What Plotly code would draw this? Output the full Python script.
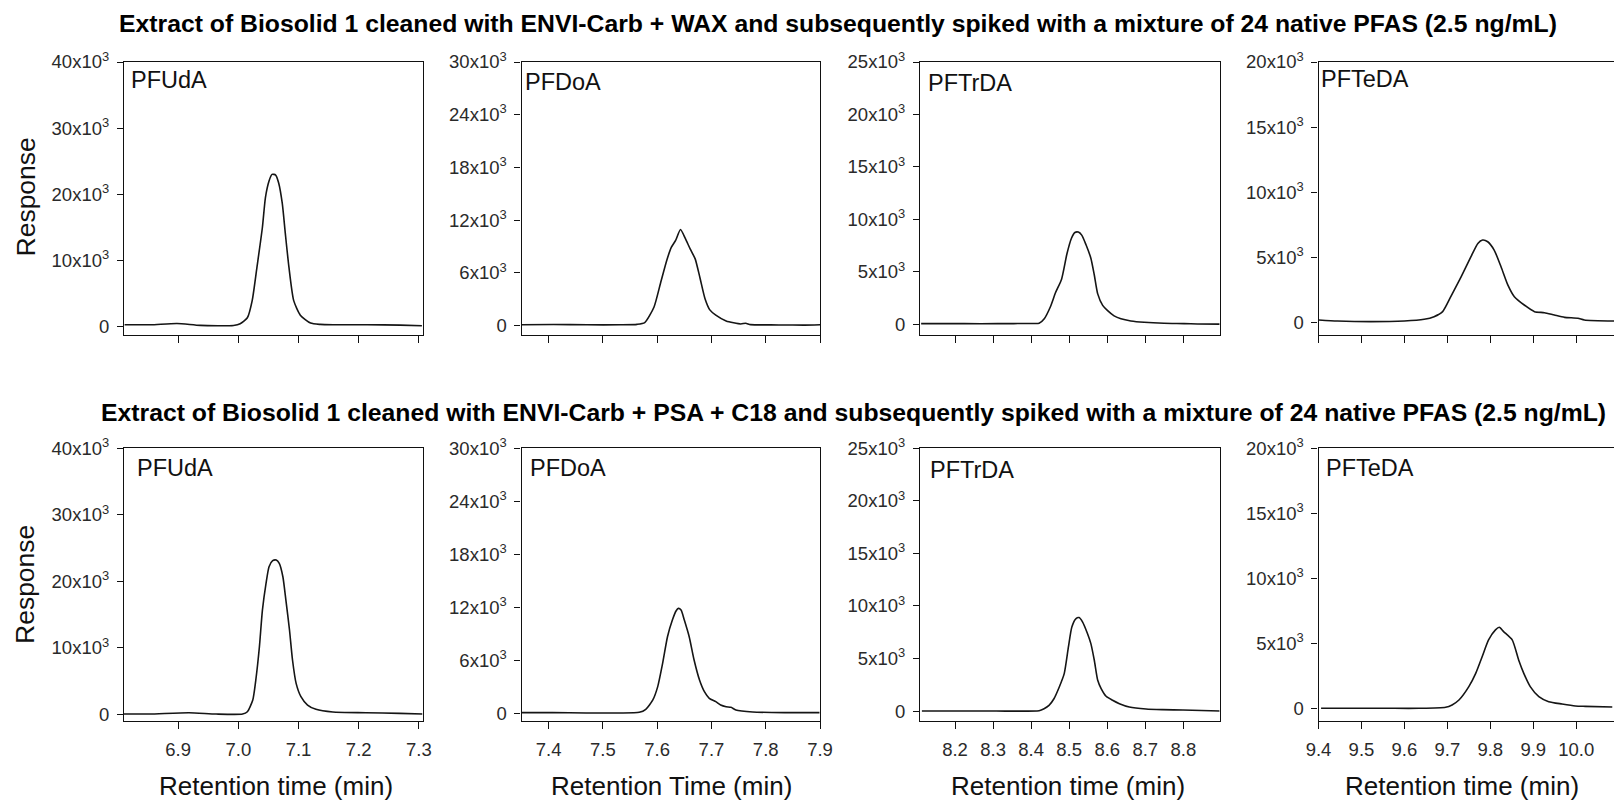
import plotly.graph_objects as go

W, H = 1614, 802

# ---------------- data ----------------
compounds = ["PFUdA", "PFDoA", "PFTrDA", "PFTeDA"]

row_titles = [
    "Extract of Biosolid 1 cleaned with ENVI-Carb + WAX and subsequently spiked with a mixture of 24 native PFAS (2.5 ng/mL)",
    "Extract of Biosolid 1 cleaned with ENVI-Carb + PSA + C18 and subsequently spiked with a mixture of 24 native PFAS (2.5 ng/mL)",
]
x_titles = ["Retention time (min)", "Retention Time (min)", "Retention time (min)", "Retention time (min)"]
y_title = "Response"

# y ticks (in thousands)
y_ticks_k = [
    [0, 10, 20, 30, 40],
    [0, 6, 12, 18, 24, 30],
    [0, 5, 10, 15, 20, 25],
    [0, 5, 10, 15, 20],
]
x_ticks = [
    [6.9, 7.0, 7.1, 7.2, 7.3],
    [7.4, 7.5, 7.6, 7.7, 7.8, 7.9],
    [8.2, 8.3, 8.4, 8.5, 8.6, 8.7, 8.8],
    [9.4, 9.5, 9.6, 9.7, 9.8, 9.9, 10.0],
]
x_ranges = [[6.810, 7.306], [7.350, 7.900], [8.108, 8.895], [9.400, 10.088]]
y_ranges = [
    [[-1300, 40000], [-1060, 30000], [-1020, 25000], [-975, 20000]],
    [[-1000, 40000], [-870, 30000], [-950, 25000], [-977, 20000]],
]

# --- WAX (top row) ---
wax_pfuda_t = [6.811, 6.854, 6.898, 6.937, 6.992, 7.003, 7.015, 7.023, 7.031, 7.040, 7.045, 7.051, 7.056,
               7.062, 7.067, 7.073, 7.078, 7.084, 7.092, 7.103, 7.120, 7.136, 7.158, 7.214, 7.269, 7.305]
wax_pfuda_r = [250, 250, 450, 150, 150, 400, 1300, 3900, 9000, 15000, 19500, 22000, 23000,
               22900, 21700, 18600, 14100, 9000, 3900, 1700, 500, 300, 250, 250, 200, 100]

wax_pfdoa_t = [7.350, 7.409, 7.471, 7.532, 7.563, 7.577, 7.594, 7.606, 7.618, 7.626, 7.634, 7.643, 7.652,
               7.661, 7.670, 7.679, 7.688, 7.697, 7.708, 7.727, 7.754, 7.763, 7.772, 7.809, 7.840, 7.871, 7.900]
wax_pfdoa_r = [100, 140, 100, 100, 150, 350, 2100, 4800, 7500, 8900, 9700, 10950, 9900,
               8700, 7600, 5400, 3100, 1800, 1200, 540, 190, 280, 120, 90, 80, 60, 100]

wax_pftrda_t = [8.111, 8.224, 8.312, 8.399, 8.421, 8.434, 8.451, 8.464, 8.480, 8.494, 8.506, 8.515, 8.524,
                8.533, 8.544, 8.557, 8.566, 8.575, 8.588, 8.601, 8.618, 8.636, 8.662, 8.697, 8.749, 8.802, 8.837, 8.896]
wax_pftrda_r = [60, 60, 60, 80, 95, 500, 1700, 3000, 4300, 6700, 8200, 8750, 8790,
                8500, 7600, 6300, 4700, 2900, 1800, 1300, 800, 520, 320, 190, 95, 65, 30, 20]

wax_pfteda_t = [9.401, 9.444, 9.522, 9.600, 9.646, 9.669, 9.689, 9.708, 9.732, 9.755, 9.771, 9.782, 9.794,
                9.809, 9.825, 9.841, 9.856, 9.879, 9.903, 9.926, 9.949, 9.973, 10.004, 10.019, 10.091]
wax_pfteda_r = [180, 100, 50, 100, 230, 430, 820, 1970, 3500, 5040, 6060, 6320, 6190,
                5550, 4270, 2860, 1970, 1330, 820, 740, 560, 380, 310, 180, 100]

# --- PSA + C18 (bottom row) ---
psa_pfuda_t = [6.809, 6.852, 6.918, 6.963, 7.007, 7.015, 7.024, 7.029, 7.035, 7.040, 7.046, 7.051, 7.057,
               7.063, 7.068, 7.074, 7.079, 7.085, 7.090, 7.096, 7.104, 7.115, 7.129, 7.157, 7.212, 7.268, 7.306]
psa_pfuda_r = [50, 50, 250, 50, 50, 400, 2150, 5160, 10170, 15680, 19690, 22190, 23100,
               23200, 22700, 20690, 17180, 12680, 8170, 4660, 2660, 1400, 750, 350, 250, 150, 50]

psa_pfdoa_t = [7.350, 7.407, 7.469, 7.530, 7.567, 7.579, 7.592, 7.601, 7.610, 7.619, 7.628, 7.635, 7.639,
               7.644, 7.650, 7.659, 7.668, 7.678, 7.687, 7.696, 7.708, 7.717, 7.727, 7.736, 7.745, 7.776, 7.837, 7.899]
psa_pfdoa_r = [75, 75, 40, 40, 110, 450, 1510, 3020, 5650, 8670, 10560, 11610, 11880,
               11690, 10560, 8670, 6030, 3770, 2450, 1700, 1320, 940, 750, 680, 380, 150, 75, 75]

psa_pftrda_t = [8.113, 8.218, 8.307, 8.421, 8.434, 8.447, 8.460, 8.474, 8.487, 8.498, 8.507, 8.518, 8.526,
                8.535, 8.548, 8.557, 8.566, 8.575, 8.584, 8.597, 8.614, 8.632, 8.658, 8.702, 8.746, 8.799, 8.896]
psa_pftrda_r = [0, 0, 0, 30, 220, 540, 1170, 2290, 3560, 6100, 8000, 8800, 8890,
                8480, 7370, 6410, 4830, 2920, 2130, 1400, 1020, 700, 380, 190, 130, 95, 0]

psa_pfteda_t = [9.406, 9.479, 9.557, 9.634, 9.696, 9.711, 9.727, 9.750, 9.766, 9.781, 9.796, 9.812, 9.821,
                9.831, 9.851, 9.866, 9.878, 9.893, 9.913, 9.936, 9.967, 9.998, 10.021, 10.084]
psa_pfteda_r = [0, 0, 0, 0, 80, 260, 640, 1670, 2690, 3970, 5260, 6030, 6230,
                5900, 5260, 3720, 2690, 1670, 900, 510, 330, 180, 150, 100]

series = [
    [(wax_pfuda_t, wax_pfuda_r), (wax_pfdoa_t, wax_pfdoa_r), (wax_pftrda_t, wax_pftrda_r), (wax_pfteda_t, wax_pfteda_r)],
    [(psa_pfuda_t, psa_pfuda_r), (psa_pfdoa_t, psa_pfdoa_r), (psa_pftrda_t, psa_pftrda_r), (psa_pfteda_t, psa_pfteda_r)],
]

# ---------------- layout (pixel geometry) ----------------
FONT = "Liberation Sans, Arial, sans-serif"
TXT = "#111111"
TICK_TXT = "#2a2a2a"
col_px = [(124, 422.5), (521.5, 820), (920, 1219.5), (1318.5, 1614)]
row_px = [(62, 335), (448.3, 721)]

def px_x(x):
    return x / W

def px_y(y):
    return 1 - y / H

fig = go.Figure()
layout = dict(
    width=W, height=H, margin=dict(l=0, r=0, t=0, b=0, autoexpand=False),
    paper_bgcolor="white", plot_bgcolor="white", showlegend=False,
    font=dict(family=FONT, color=TXT),
)

annotations = []
k = 0
for r in range(2):
    for c in range(4):
        k += 1
        xa = "xaxis" if k == 1 else f"xaxis{k}"
        ya = "yaxis" if k == 1 else f"yaxis{k}"
        xr = "x" if k == 1 else f"x{k}"
        yr = "y" if k == 1 else f"y{k}"
        t, v = series[r][c]
        fig.add_trace(go.Scatter(x=t, y=v, mode="lines", xaxis=xr, yaxis=yr,
                                 line=dict(color="#151515", width=1.6, shape="spline", smoothing=0.6),
                                 hoverinfo="skip"))
        x0, x1 = col_px[c]
        y0, y1 = row_px[r]
        layout[xa] = dict(
            domain=[px_x(x0), min(1.0, px_x(x1))], anchor=yr, range=x_ranges[c],
            tickvals=x_ticks[c], ticktext=[f"{v_:.1f}" for v_ in x_ticks[c]],
            showticklabels=(r == 1), ticks="outside", ticklen=7, tickwidth=1, tickcolor="#111",
            showline=True, linecolor="#111", linewidth=1.2, mirror=True,
            showgrid=False, zeroline=False, fixedrange=True,
            tickfont=dict(family=FONT, size=18.5, color=TICK_TXT), ticklabelstandoff=5,
        )
        layout[ya] = dict(
            domain=[px_y(y1), px_y(y0)], anchor=xr, range=y_ranges[r][c],
            tickvals=[q * 1000 for q in y_ticks_k[c]],
            ticktext=["0" if q == 0 else f"{q}x10<sup>3</sup>" for q in y_ticks_k[c]],
            ticks="outside", ticklen=6, tickwidth=1, tickcolor="#111",
            showline=True, linecolor="#111", linewidth=1.2, mirror=(c < 3),
            showgrid=False, zeroline=False, fixedrange=True,
            tickfont=dict(family=FONT, size=18.5, color=TICK_TXT), ticklabelstandoff=4,
        )

# panel labels
label_pos = [
    [(131.7, 71.7), (526, 73.3), (929, 75), (1322.3, 70.7)],
    [(138.3, 459.3), (531, 460), (931, 461.7), (1327.3, 459.3)],
]
for r in range(2):
    for c in range(4):
        lx, ly = label_pos[r][c]
        annotations.append(dict(text=compounds[c], xref="paper", yref="paper",
                                x=px_x(lx - 3), y=px_y(ly + 8.3), xanchor="left", yanchor="middle",
                                showarrow=False, font=dict(family=FONT, size=23.5, color=TXT)))

# row titles
for (cx, cy), txt in zip([(838, 23.3), (853, 412)], row_titles):
    annotations.append(dict(text=f"<b>{txt}</b>", xref="paper", yref="paper",
                            x=px_x(cx), y=px_y(cy), xanchor="center", yanchor="middle",
                            showarrow=False, font=dict(family=FONT, size=24.75, color="#000")))

# y titles
for cy in [197.5, 585]:
    annotations.append(dict(text=y_title, xref="paper", yref="paper", textangle=-90,
                            x=px_x(25), y=px_y(cy), xanchor="center", yanchor="middle",
                            showarrow=False, font=dict(family=FONT, size=26.5, color=TXT)))

# x titles
for cx, txt in zip([275.8, 671.7, 1068.3, 1461.7], x_titles):
    annotations.append(dict(text=txt, xref="paper", yref="paper",
                            x=px_x(cx), y=px_y(786), xanchor="center", yanchor="middle",
                            showarrow=False, font=dict(family=FONT, size=26, color=TXT)))

layout["annotations"] = annotations
fig.update_layout(**layout)
fig.write_html(
    "out.html",
    post_script="document.body.style.margin='0';document.body.style.padding='0';"
                "document.documentElement.style.overflow='hidden';document.body.style.overflow='hidden';",
)
